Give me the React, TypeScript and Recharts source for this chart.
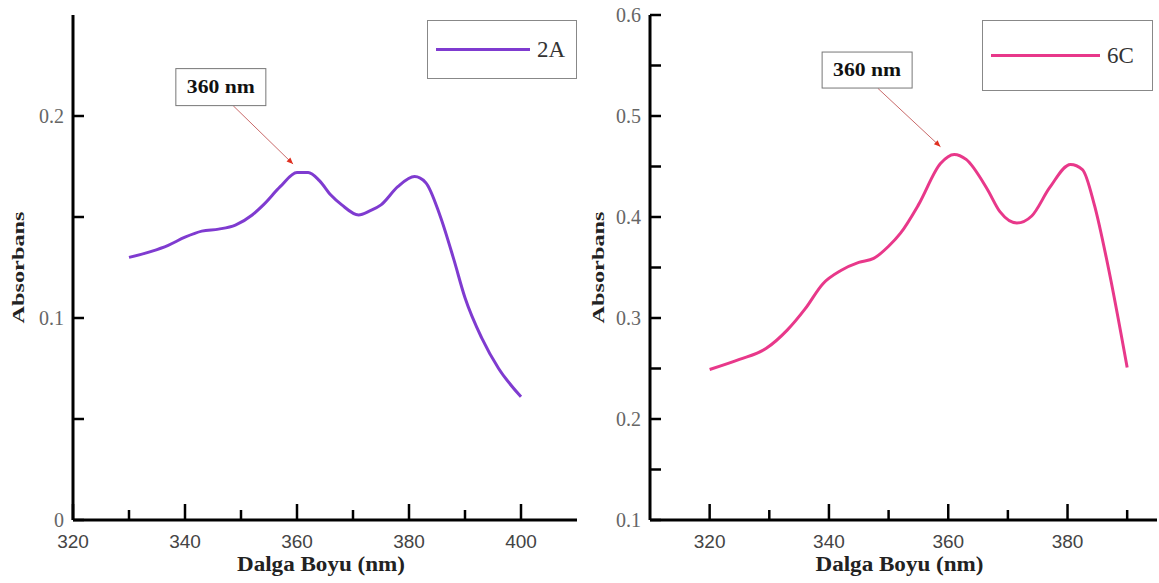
import React from 'react'
import {
  LineChart,
  Line,
  XAxis,
  YAxis,
  Legend,
  Label,
  ReferenceLine,
  ReferenceDot,
} from 'recharts'

// Absorbance spectra
const nm2A = [330, 334, 337, 340, 343, 346, 349, 352, 354, 357, 360, 362, 364, 366, 368, 371, 373, 375, 378, 381, 383, 385.5, 388, 390, 393, 396, 400]
const abs2A = [0.130, 0.133, 0.136, 0.140, 0.143, 0.144, 0.146, 0.151, 0.156, 0.165, 0.172, 0.172, 0.168, 0.161, 0.156, 0.151, 0.153, 0.156, 0.165, 0.170, 0.167, 0.151, 0.129, 0.110, 0.090, 0.075, 0.061]

const nm6C = [320, 325, 329.5, 333, 336, 339, 342, 345, 347.5, 350, 352, 355, 358.7, 361, 363, 366.5, 368.7, 371.5, 374, 377, 380.5, 382.5, 384.5, 386.7, 390]
const abs6C = [0.249, 0.259, 0.270, 0.288, 0.309, 0.334, 0.347, 0.355, 0.359, 0.371, 0.384, 0.412, 0.453, 0.462, 0.457, 0.428, 0.405, 0.394, 0.401, 0.429, 0.452, 0.447, 0.412, 0.354, 0.251]

const xTicks2A = [320, 330, 340, 350, 360, 370, 380, 390, 400]
const yTicks2A = [0, 0.05, 0.1, 0.15, 0.2]
const xTicks6C = [320, 330, 340, 350, 360, 370, 380, 390]
const yTicks6C = [0.1, 0.15, 0.2, 0.25, 0.3, 0.35, 0.4, 0.45, 0.5, 0.55, 0.6]

// "360 nm" callouts: box centre, arrow start and arrow tip (data units)
const note2A = { text: '360 nm', boxNm: 346.4, boxAbs: 0.2143, fromNm: 348.6, fromAbs: 0.2051, toNm: 359.3, toAbs: 0.1762 }
const note6C = { text: '360 nm', boxNm: 346.4, boxAbs: 0.5455, fromNm: 348.2, fromAbs: 0.5274, toNm: 358.7, toAbs: 0.4696 }

const SERIF = '"Liberation Serif", "Times New Roman", serif'
const SANS = '"Liberation Sans", Arial, sans-serif'

function XTick({ x, y, payload }: any) {
  const major = payload.value % 20 === 0
  return (
    <g>
      <line x1={x} x2={x} y1={y} y2={y - (major ? 16 : 10)} stroke="#000" strokeWidth={2.5} />
      {major && (
        <text x={x} y={y + 28} textAnchor="middle" fontFamily={SANS} fontSize={19} fill="#444">
          {payload.value}
        </text>
      )}
    </g>
  )
}

function YTick({ x, y, payload }: any) {
  const v = payload.value
  const major = Math.abs(v * 10 - Math.round(v * 10)) < 1e-6
  return (
    <g>
      <line x1={x} x2={x + 11} y1={y} y2={y} stroke="#000" strokeWidth={2.5} />
      {major && (
        <text x={x - 9} y={y + 7} textAnchor="end" fontFamily={SERIF} fontSize={20} fill="#666">
          {v === 0 ? '0' : v.toFixed(1)}
        </text>
      )}
    </g>
  )
}

function Arrow({ x1, y1, x2, y2 }: any) {
  const a = Math.atan2(y2 - y1, x2 - x1)
  const L = 7
  const p1 = `${x2 - L * Math.cos(a - 0.4)},${y2 - L * Math.sin(a - 0.4)}`
  const p2 = `${x2 - L * Math.cos(a + 0.4)},${y2 - L * Math.sin(a + 0.4)}`
  return (
    <g>
      <line x1={x1} y1={y1} x2={x2} y2={y2} stroke="#c96a6a" strokeWidth={1} />
      <polygon points={`${x2},${y2} ${p1} ${p2}`} fill="#e03020" />
    </g>
  )
}

function NoteBox({ cx, cy, text, h }: any) {
  return (
    <g>
      <rect x={cx - 45} y={cy - h / 2} width={90} height={h} fill="#fff" stroke="#777" strokeWidth={1} />
      <text x={cx} y={cy + 6} textAnchor="middle" fontFamily={SERIF} fontWeight="bold" fontSize={18}
        textLength={68} lengthAdjust="spacingAndGlyphs" fill="#111">
        {text}
      </text>
    </g>
  )
}

function SpectrumChart({
  nm, abs, name, color, xDomain, xTicks, yDomain, yTicks, note, boxH,
  width, marginLeft, marginRight, legendBox,
}: any) {
  const data = nm.map((w: number, i: number) => ({ nm: w, abs: abs[i] }))
  const axis = { stroke: '#000', strokeWidth: 3 }

  return (
    <LineChart width={width} height={583} data={data}
      margin={{ top: 15, right: marginRight, bottom: 8, left: marginLeft }}>
      <XAxis dataKey="nm" type="number" domain={xDomain} ticks={xTicks} allowDataOverflow
        height={55} axisLine={axis} tickLine={false} tickSize={0} tickMargin={0} tick={<XTick />}>
        <Label content={({ viewBox }: any) => (
          <text x={viewBox.x + viewBox.width / 2 - 4} y={viewBox.y + 51} textAnchor="middle"
            fontFamily={SERIF} fontWeight="bold" fontSize={20} textLength={168}
            lengthAdjust="spacingAndGlyphs" fill="#222">
            Dalga Boyu (nm)
          </text>
        )} />
      </XAxis>
      <XAxis xAxisId="top" orientation="top" type="number" domain={xDomain} allowDataOverflow
        height={0} axisLine={axis} tick={false} tickLine={false} />
      <YAxis type="number" domain={yDomain} ticks={yTicks} allowDataOverflow width={60}
        axisLine={axis} tickLine={false} tickSize={0} tickMargin={0} tick={<YTick />}>
        <Label content={({ viewBox }: any) => {
          const cy = viewBox.y + viewBox.height / 2
          return (
            <text x={24} y={cy} transform={`rotate(-90, 24, ${cy})`} textAnchor="middle"
              fontFamily={SERIF} fontWeight="bold" fontSize={17} textLength={112}
              lengthAdjust="spacingAndGlyphs" fill="#222">
              Absorbans
            </text>
          )
        }} />
      </YAxis>
      <YAxis yAxisId="right" orientation="right" type="number" domain={yDomain} allowDataOverflow
        width={0} axisLine={axis} tick={false} tickLine={false} />

      <Legend layout="horizontal" verticalAlign="middle" align="center"
        wrapperStyle={{ top: legendBox.top, left: legendBox.left }}
        content={() => (
          <div style={{
            boxSizing: 'border-box', width: legendBox.width, height: legendBox.height,
            border: '1px solid #888', background: '#fff', display: 'flex', alignItems: 'center',
            paddingLeft: 8,
          }}>
            <div style={{ width: legendBox.line, height: 3, background: color }} />
            <span style={{ fontFamily: SERIF, fontSize: 23, color: '#333', marginLeft: 7 }}>{name}</span>
          </div>
        )} />

      <Line type="monotone" dataKey="abs" name={name} stroke={color} strokeWidth={3}
        dot={false} isAnimationActive={false} />

      <ReferenceLine segment={[{ x: note.fromNm, y: note.fromAbs }, { x: note.toNm, y: note.toAbs }]}
        shape={(p: any) => <Arrow {...p} />} />
      <ReferenceDot x={note.boxNm} y={note.boxAbs} r={1}
        shape={(p: any) => <NoteBox cx={p.cx} cy={p.cy} text={note.text} h={boxH} />} />
    </LineChart>
  )
}

export default function App() {
  return (
    <div style={{ position: 'absolute', left: 0, top: 0, width: 1159, height: 583, background: '#fff' }}>
      <div style={{ position: 'absolute', left: 0, top: 0 }}>
        <SpectrumChart nm={nm2A} abs={abs2A} name="2A" color="#7f3bd0"
          xDomain={[320, 410]} xTicks={xTicks2A} yDomain={[0, 0.25]} yTicks={yTicks2A}
          note={note2A} boxH={37} width={580} marginLeft={13} marginRight={3}
          legendBox={{ top: 20, left: 427, width: 150, height: 59, line: 94 }} />
      </div>
      <div style={{ position: 'absolute', left: 580, top: 0 }}>
        <SpectrumChart nm={nm6C} abs={abs6C} name="6C" color="#e8388a"
          xDomain={[310, 395]} xTicks={xTicks6C} yDomain={[0.1, 0.6]} yTicks={yTicks6C}
          note={note6C} boxH={36} width={579} marginLeft={10} marginRight={2}
          legendBox={{ top: 20, left: 402, width: 171, height: 71, line: 109 }} />
      </div>
    </div>
  )
}
